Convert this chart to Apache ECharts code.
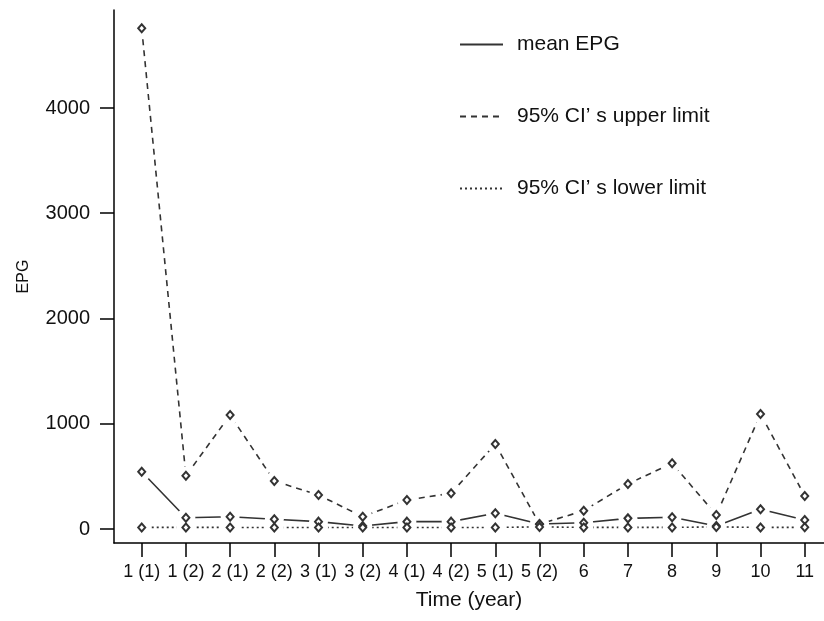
<!DOCTYPE html>
<html>
<head>
<meta charset="utf-8">
<script src="https://cdn.jsdelivr.net/npm/echarts@6/dist/echarts.min.js"></script>
<style>html,body{margin:0;padding:0;background:#fff}#c{width:824px;height:621px}</style>
</head>
<body>
<div id="c"></div>
<script>
const categories = ['1 (1)','1 (2)','2 (1)','2 (2)','3 (1)','3 (2)','4 (1)','4 (2)','5 (1)','5 (2)','6','7','8','9','10','11'];
const meanEPG = [544, 107, 117, 92, 70, 28, 70, 70, 149, 47, 60, 101, 111, 28, 187, 85];
const upperCI = [4757, 506, 1083, 456, 323, 117, 276, 339, 808, 45, 174, 428, 624, 133, 1093, 314];
const lowerCI = [15, 15, 15, 14, 14, 15, 14, 14, 15, 20, 15, 15, 15, 20, 15, 16];
const yTicks = [0, 1000, 2000, 3000, 4000];
const seriesNames = ['mean EPG', '95% CI\u2019 s upper limit', '95% CI\u2019 s lower limit'];

const idx = categories.map((_, i) => i);
const pairs = arr => arr.map((v, i) => [i, v]);
const FONT = '"Liberation Sans", Arial, Helvetica, sans-serif';
const ink = '#333';

const chart = echarts.init(document.getElementById('c'), null, {renderer: 'canvas'});
function lineSeries(name, data, type) {
  return {
    name, type: 'line', data: pairs(data), showSymbol: false, symbol: 'none',
    lineStyle: {color: ink, width: 1.6, type},
    itemStyle: {color: ink},
    emphasis: {disabled: true}, silent: true, z: 2
  };
}
function haloSeries(name, data) {
  return {
    name: name + ' gap', type: 'line', data: pairs(data),
    symbol: 'circle', symbolSize: 19,
    lineStyle: {opacity: 0, width: 0},
    itemStyle: {color: '#fff', borderWidth: 0},
    emphasis: {disabled: true}, silent: true, z: 3
  };
}
function pointSeries(name, data) {
  return {
    name, type: 'line', data: pairs(data),
    symbol: 'emptyDiamond', symbolSize: [7, 8],
    lineStyle: {opacity: 0, width: 0},
    itemStyle: {color: ink, borderColor: ink, borderWidth: 1.3},
    emphasis: {disabled: true}, silent: true, z: 4
  };
}
const allData = [meanEPG, upperCI, lowerCI];
const dashes = ['solid', [6, 5], [2, 3]];
const series = [];
seriesNames.forEach((n, k) => series.push(lineSeries(n, allData[k], dashes[k])));
seriesNames.forEach((n, k) => series.push(haloSeries(n, allData[k])));
seriesNames.forEach((n, k) => series.push(pointSeries(n, allData[k])));

chart.setOption({
  animation: false,
  backgroundColor: '#fff',
  textStyle: {fontFamily: FONT},
  grid: {left: 114, right: 0, top: 10, bottom: 78, containLabel: false},
  legend: {
    orient: 'vertical', left: 459, top: 34, padding: 0,
    itemWidth: 43, itemHeight: 14, itemGap: 51,
    itemStyle: {opacity: 0},
    textStyle: {fontFamily: FONT, fontSize: 21, color: '#111', padding: [0, 0, 0, 9]},
    data: seriesNames
  },
  xAxis: {
    type: 'value', min: -0.627, max: 15.436,
    name: 'Time (year)', nameLocation: 'middle', nameGap: 47,
    nameTextStyle: {fontFamily: FONT, fontSize: 21, color: '#111'},
    axisLine: {show: true, onZero: false, lineStyle: {color: '#000', width: 1.5}},
    axisTick: {show: true, length: 14, customValues: idx, lineStyle: {color: '#000', width: 1.5}},
    axisLabel: {customValues: idx, formatter: v => categories[Math.round(v)] ?? '', fontSize: 18, color: '#111', margin: 20, fontFamily: FONT},
    splitLine: {show: false}
  },
  yAxis: {
    type: 'value', min: -133, max: 4931,
    name: 'EPG', nameLocation: 'middle', nameGap: 82, nameRotate: 90,
    nameTextStyle: {fontFamily: FONT, fontSize: 16, color: '#111'},
    axisLine: {show: true, onZero: false, lineStyle: {color: '#000', width: 1.5}},
    axisTick: {show: true, length: 14, customValues: yTicks, lineStyle: {color: '#000', width: 1.5}},
    axisLabel: {customValues: yTicks, formatter: v => String(v), fontSize: 20, color: '#111', margin: 24, fontFamily: FONT},
    splitLine: {show: false}
  },
  series
});
</script>
</body>
</html>
